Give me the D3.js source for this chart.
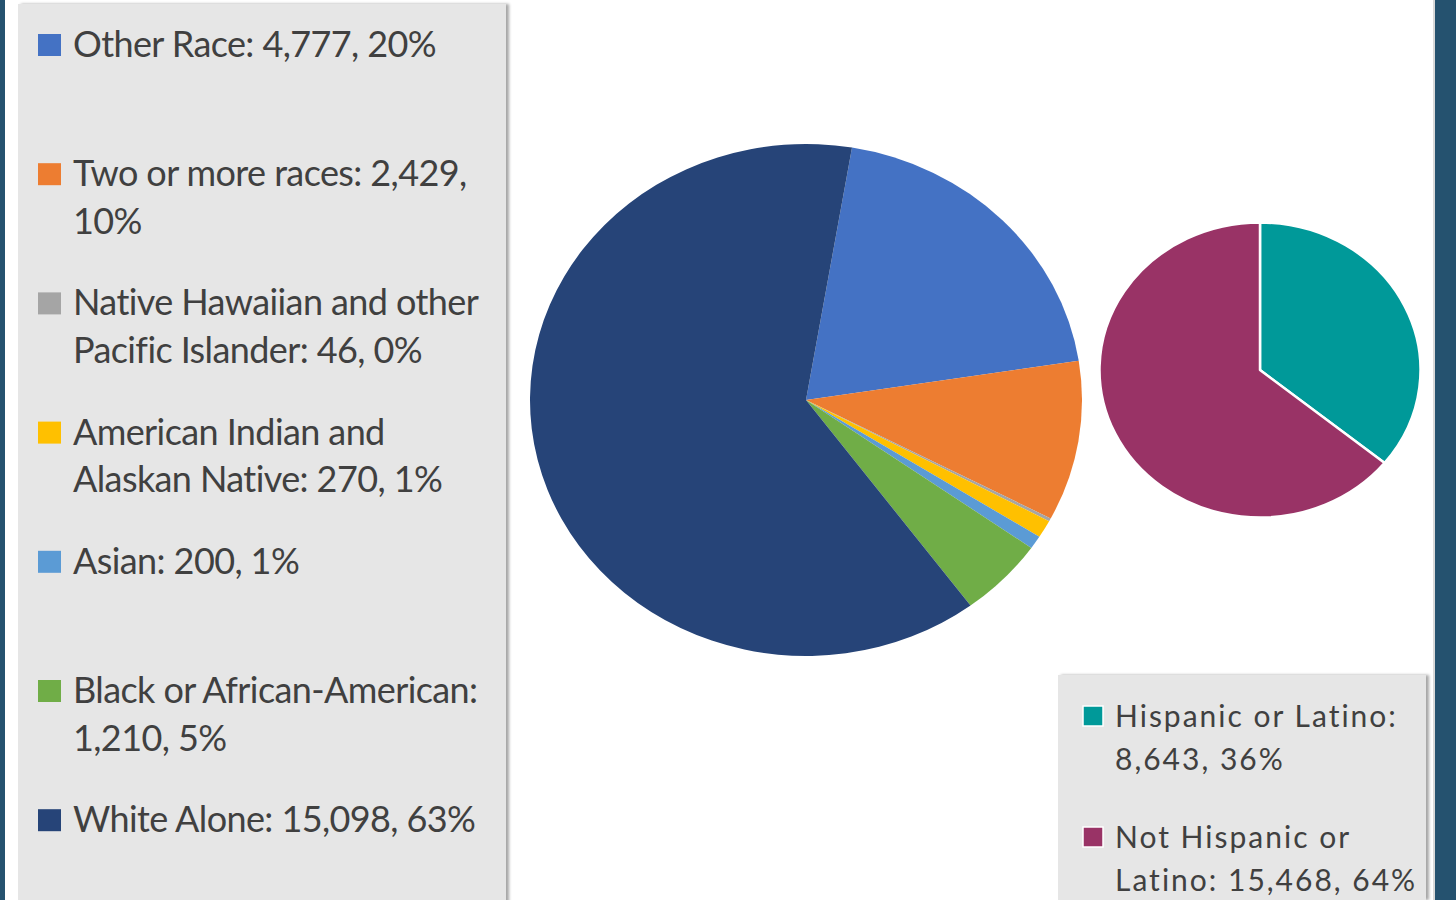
<!DOCTYPE html>
<html>
<head>
<meta charset="utf-8">
<script src="https://cdn.jsdelivr.net/npm/d3@7"></script>
<style>
  html, body { margin: 0; padding: 0; background: #fff; }
  svg { display: block; }
  text { font-family: Lato, "Open Sans", sans-serif; fill: #404040; }
</style>
</head>
<body>
<div id="chart"></div>
<script>
// Race breakdown (big pie), in the order the slices run clockwise
var raceLabels = ["Other Race", "Two or more races", "Native Hawaiian and other Pacific Islander",
                  "American Indian and Alaskan Native", "Asian", "Black or African-American", "White Alone"];
var raceValues = [4777, 2429, 46, 270, 200, 1210, 15098];
var raceColors = ["#4472C4", "#ED7D31", "#A5A5A5", "#FFC000", "#5B9BD5", "#70AD47", "#264478"];

// Ethnicity breakdown (small pie)
var ethLabels = ["Hispanic or Latino", "Not Hispanic or Latino"];
var ethValues = [8643, 15468];
var ethColors = ["#009999", "#993366"];

var W = 1456, H = 900;
var fmt = d3.format(",");

var svg = d3.select("#chart").append("svg")
    .attr("width", W)
    .attr("height", H);

// drop shadow for the legend boxes
var defs = svg.append("defs");
var f = defs.append("filter").attr("id", "shadow")
    .attr("x", "-5%").attr("y", "-5%").attr("width", "110%").attr("height", "110%");
f.append("feDropShadow").attr("dx", 3).attr("dy", 0).attr("stdDeviation", 1.5)
    .attr("flood-color", "#000").attr("flood-opacity", 0.35);

svg.append("rect").attr("width", W).attr("height", H).attr("fill", "#fff");

// dark frame on both sides
svg.append("rect").attr("x", 0).attr("y", 0).attr("width", 5).attr("height", H).attr("fill", "#25526F");
svg.append("rect").attr("x", 1433).attr("y", 0).attr("width", 2).attr("height", H).attr("fill", "#d9d9d9");
svg.append("rect").attr("x", 1435).attr("y", 0).attr("width", W - 1435).attr("height", H).attr("fill", "#25526F");

// wrap a legend string into lines no wider than maxW
function wrapLines(str, maxW, probe) {
    var words = str.split(" "), lines = [], cur = "";
    words.forEach(function(w) {
        var test = cur ? cur + " " + w : w;
        probe.text(test);
        if (cur && probe.node().getComputedTextLength() > maxW) {
            lines.push(cur);
            cur = w;
        } else {
            cur = test;
        }
    });
    if (cur) lines.push(cur);
    probe.text("");
    return lines;
}

// ---- left legend ----
svg.append("rect")
    .attr("x", 18).attr("y", 4).attr("width", 488).attr("height", H)
    .attr("fill", "#E6E6E6")
    .attr("filter", "url(#shadow)");

var raceTotal = d3.sum(raceValues);
var leftLegend = svg.append("g");
var leftProbe = leftLegend.append("text")
    .style("font-size", "36px").style("letter-spacing", "-0.6px");

raceLabels.forEach(function(lab, i) {
    var pct = Math.round(raceValues[i] / raceTotal * 100) + "%";
    var str = lab + ": " + fmt(raceValues[i]) + ", " + pct;
    var y0 = 57 + i * 129.2;
    leftLegend.append("rect")
        .attr("x", 38).attr("y", y0 - 23).attr("width", 23).attr("height", 22)
        .attr("fill", raceColors[i]);
    var lines = wrapLines(str, 420, leftProbe);
    var t = leftLegend.append("text")
        .attr("x", 73).attr("y", y0)
        .style("font-size", "36px").style("letter-spacing", "-0.6px");
    lines.forEach(function(l, j) {
        t.append("tspan").attr("x", 73).attr("y", y0 + j * 47.5).text(l);
    });
});

// ---- big pie ----
var bigCx = 806, bigCy = 400, bigRx = 276, bigRy = 256;
var bigPie = d3.pie().sort(null).startAngle(9.6 * Math.PI / 180).endAngle((9.6 + 360) * Math.PI / 180);
var bigArc = d3.arc().innerRadius(0).outerRadius(bigRy);

svg.append("g")
    .attr("transform", "translate(" + bigCx + "," + bigCy + ") scale(" + (bigRx / bigRy) + ",1)")
    .selectAll("path")
    .data(bigPie(raceValues))
    .join("path")
    .attr("d", bigArc)
    .attr("fill", function(d, i) { return raceColors[i]; });

// ---- small pie ----
var smCx = 1260, smCy = 370, smRx = 160.5, smRy = 147.5;
var smPie = d3.pie().sort(null);
var smArc = d3.arc().innerRadius(0).outerRadius(smRy);

svg.append("g")
    .attr("transform", "translate(" + smCx + "," + smCy + ") scale(" + (smRx / smRy) + ",1)")
    .selectAll("path")
    .data(smPie(ethValues))
    .join("path")
    .attr("d", smArc)
    .attr("fill", function(d, i) { return ethColors[i]; })
    .attr("stroke", "#fff")
    .attr("stroke-width", 2.5)
    .attr("stroke-linejoin", "round")
    .attr("vector-effect", "non-scaling-stroke");

// ---- right legend ----
svg.append("rect")
    .attr("x", 1058).attr("y", 675).attr("width", 368).attr("height", H - 675)
    .attr("fill", "#E6E6E6")
    .attr("filter", "url(#shadow)");

var ethTotal = d3.sum(ethValues);
var rightLegend = svg.append("g");
var rightProbe = rightLegend.append("text")
    .style("font-size", "30px").style("letter-spacing", "2px");

ethLabels.forEach(function(lab, i) {
    var pct = Math.round(ethValues[i] / ethTotal * 100) + "%";
    var str = lab + ": " + fmt(ethValues[i]) + ", " + pct;
    var y0 = 727 + i * 121;
    rightLegend.append("rect")
        .attr("x", 1083).attr("y", y0 - 21).attr("width", 20).attr("height", 20)
        .attr("fill", ethColors[i])
        .attr("stroke", "#fff").attr("stroke-width", 1.5);
    var lines = wrapLines(str, 320, rightProbe);
    var t = rightLegend.append("text")
        .attr("x", 1115).attr("y", y0)
        .style("font-size", "30px").style("letter-spacing", "2px");
    lines.forEach(function(l, j) {
        t.append("tspan").attr("x", 1115).attr("y", y0 + j * 42.5).text(l);
    });
});
</script>
</body>
</html>
